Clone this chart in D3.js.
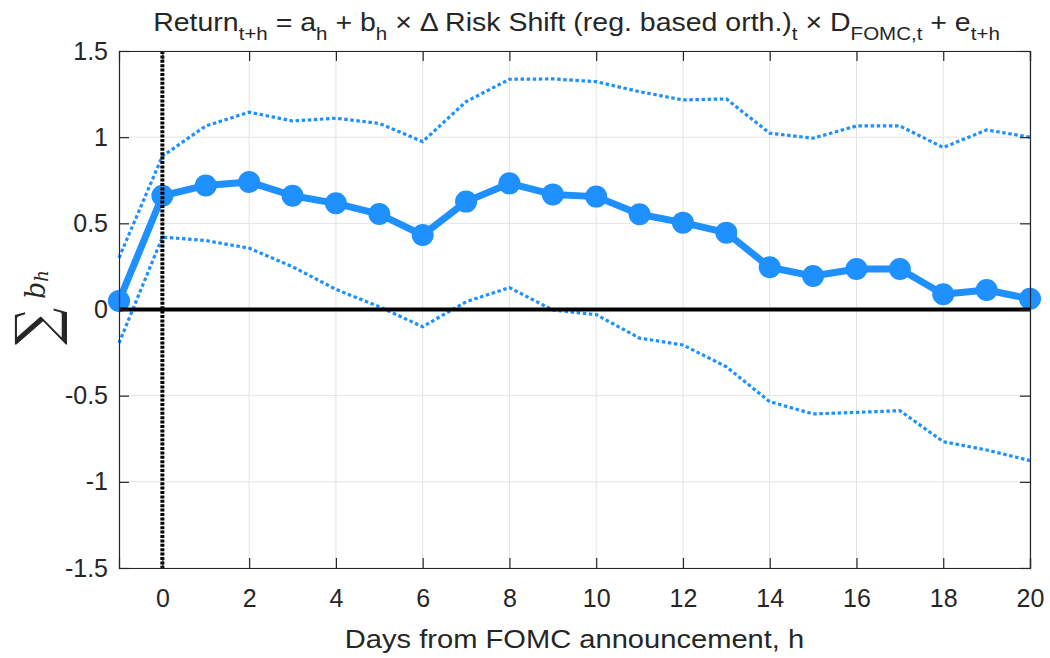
<!DOCTYPE html>
<html lang="en">
<head>
  <meta charset="utf-8">
  <title>Cumulative response to Risk Shift</title>
  <script src="https://d3js.org/d3.v7.min.js"></script>
  <style>
    body { margin: 0; background: #fff; }
    svg text { font-family: "Liberation Sans", Arial, Helvetica, sans-serif; fill: #262626; }
  </style>
</head>
<body>
  <svg id="chart" width="1050" height="658"></svg>

  <script>
    // horizon in days from the announcement
    const days = [-1, 0, 1, 2, 3, 4, 5, 6, 7, 8, 9, 10, 11, 12, 13, 14, 15, 16, 17, 18, 19, 20];
    // cumulative coefficient sum b_h
    const coef = [0.05, 0.66, 0.72, 0.74, 0.66, 0.616, 0.554, 0.432, 0.626, 0.732, 0.668, 0.655,
                  0.553, 0.504, 0.446, 0.245, 0.194, 0.235, 0.235, 0.088, 0.113, 0.062];
    // confidence bands
    const upper = [0.30, 0.89, 1.065, 1.145, 1.094, 1.11, 1.08, 0.974, 1.206, 1.336, 1.338, 1.322,
                   1.264, 1.216, 1.222, 1.023, 0.994, 1.065, 1.065, 0.94, 1.042, 1.0];
    const lower = [-0.195, 0.42, 0.40, 0.356, 0.248, 0.117, 0.016, -0.10, 0.045, 0.127, -0.003, -0.03,
                   -0.166, -0.206, -0.332, -0.535, -0.606, -0.597, -0.587, -0.767, -0.815, -0.877];

    const xTicks = [0, 2, 4, 6, 8, 10, 12, 14, 16, 18, 20];
    const yTicks = [-1.5, -1, -0.5, 0, 0.5, 1, 1.5];

    const blue = "#1e90ff";
    const mLeft = 119, mRight = 1030, mTop = 51, mBottom = 568;

    const svg = d3.select("#chart");
    const x = d3.scaleLinear().domain([-1, 20]).range([mLeft, mRight]);
    const y = d3.scaleLinear().domain([-1.5, 1.5]).range([mBottom, mTop]);

    // grid
    const grid = svg.append("g").attr("stroke", "#e3e3e3").attr("stroke-width", 1);
    grid.selectAll(".gx").data(xTicks).enter().append("line")
      .attr("x1", d => x(d)).attr("x2", d => x(d)).attr("y1", mTop).attr("y2", mBottom);
    grid.selectAll(".gy").data(yTicks).enter().append("line")
      .attr("x1", mLeft).attr("x2", mRight).attr("y1", d => y(d)).attr("y2", d => y(d));

    const line = d3.line().x((d, i) => x(days[i])).y(d => y(d));

    // confidence bands (dotted)
    [upper, lower].forEach(band => {
      svg.append("path")
        .attr("d", line(band))
        .attr("fill", "none")
        .attr("stroke", blue)
        .attr("stroke-width", 3.2)
        .attr("stroke-dasharray", "3.5,2.6");
    });

    // main line with markers
    svg.append("path")
      .attr("d", line(coef))
      .attr("fill", "none")
      .attr("stroke", blue)
      .attr("stroke-width", 7)
      .attr("stroke-linejoin", "round");

    svg.selectAll(".dot").data(coef).enter().append("circle")
      .attr("cx", (d, i) => x(days[i]))
      .attr("cy", d => y(d))
      .attr("r", 11)
      .attr("fill", blue);

    // zero line and announcement day
    svg.append("line")
      .attr("x1", x(-1)).attr("x2", x(20)).attr("y1", y(0)).attr("y2", y(0))
      .attr("stroke", "#000").attr("stroke-width", 4);
    svg.append("line")
      .attr("x1", x(0)).attr("x2", x(0)).attr("y1", mTop).attr("y2", mBottom)
      .attr("stroke", "#000").attr("stroke-width", 4)
      .attr("stroke-dasharray", "3,1.4");

    // axes
    const axisColor = "#262626";
    const xAxis = svg.append("g").attr("transform", `translate(0,${mBottom})`)
      .call(d3.axisBottom(x).tickValues(xTicks).tickSize(-10).tickPadding(21).tickFormat(d3.format("d")));
    const xTop = svg.append("g").attr("transform", `translate(0,${mTop})`)
      .call(d3.axisTop(x).tickValues(xTicks).tickSize(-10).tickFormat(""));
    const yAxis = svg.append("g").attr("transform", `translate(${mLeft},0)`)
      .call(d3.axisLeft(y).tickValues(yTicks).tickSize(-10).tickPadding(11).tickFormat(d => String(d)));
    const yRight = svg.append("g").attr("transform", `translate(${mRight},0)`)
      .call(d3.axisRight(y).tickValues(yTicks).tickSize(-10).tickFormat(""));

    [xAxis, xTop, yAxis, yRight].forEach(a => {
      a.select(".domain").attr("stroke", axisColor).attr("stroke-width", 1.2);
      a.selectAll(".tick line").attr("stroke", axisColor).attr("stroke-width", 1.2);
      a.selectAll(".tick text").attr("font-size", 25).attr("fill", axisColor)
        .style("font-family", "'Liberation Sans', Arial, sans-serif");
    });

    // x label
    svg.append("text")
      .attr("transform", `translate(${(mLeft + mRight) / 2},648) scale(1.12,1)`)
      .attr("text-anchor", "middle")
      .attr("font-size", 26)
      .text("Days from FOMC announcement, h");

    // y label: sum of b_h
    const yl = svg.append("g").attr("transform", "translate(56,345) rotate(-90)");
    yl.append("text")
      .attr("transform", "scale(1,1.1)")
      .attr("font-size", 52)
      .style("font-family", "'DejaVu Serif', serif")
      .text("\u2211");
    const bh = yl.append("text")
      .attr("x", 46).attr("y", -11)
      .style("font-family", "'DejaVu Serif', serif")
      .attr("font-style", "italic");
    bh.append("tspan").attr("font-size", 27).text("b");
    bh.append("tspan").attr("font-size", 18).attr("dy", 3).text("h");

    // title
    const title = svg.append("text")
      .attr("transform", `translate(${(mLeft + mRight) / 2 + 2},31) scale(1.14,1)`)
      .attr("text-anchor", "middle")
      .attr("font-size", 25);
    const parts = [
      ["Return", false], ["t+h", true], [" = a", false], ["h", true], [" + b", false], ["h", true],
      [" \u00d7 \u0394 Risk Shift (reg. based orth.)", false], ["t", true], [" \u00d7 D", false],
      ["FOMC,t", true], [" + e", false], ["t+h", true]
    ];
    parts.forEach(([txt, sub]) => {
      title.append("tspan")
        .attr("font-size", sub ? 18 : 25)
        .attr("dy", sub ? 9 : -9)
        .text(txt);
    });
    title.select("tspan").attr("dy", 0);
  </script>
</body>
</html>
